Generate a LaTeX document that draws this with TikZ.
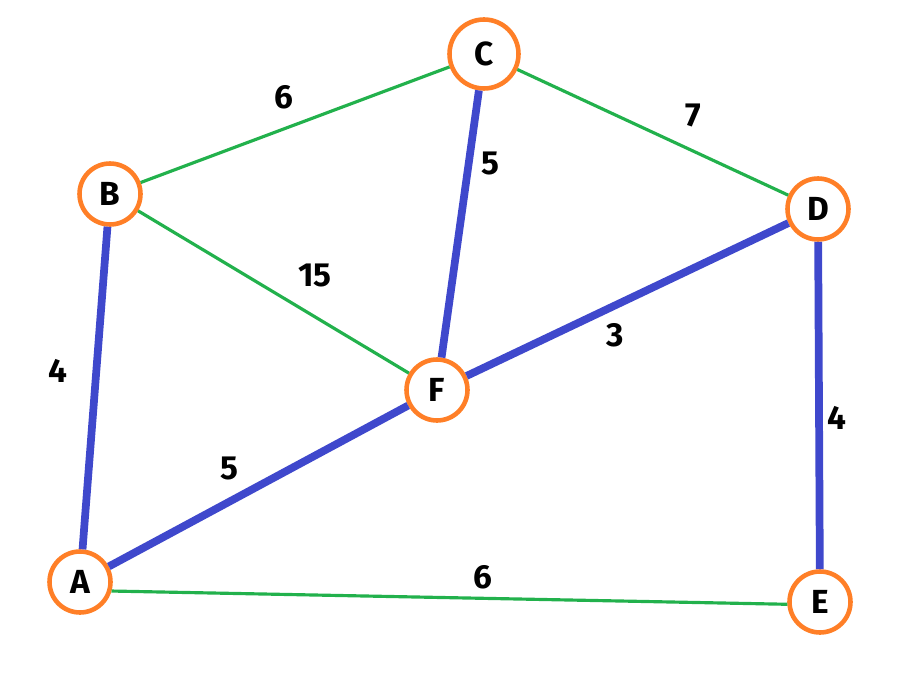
\documentclass[tikz,border=0pt]{standalone}
\usepackage{fontspec}
\setmainfont{Fira Sans}
\usepackage{tikz}
\usetikzlibrary{positioning}
\definecolor{vtxOrange}{HTML}{FF7F27}
\definecolor{edgeGreen}{HTML}{22B14C}
\definecolor{treeBlue}{HTML}{3F48CC}

\begin{document}
\begin{tikzpicture}[font=\fontsize{19}{22}\selectfont\bfseries,
  vtx/.style={circle,draw=vtxOrange,line width=2.6pt,fill=white,minimum size=1.22cm,inner sep=0pt},
  plain/.style={edgeGreen,line width=1.8pt},
  tree/.style={treeBlue,line width=4.4pt},
  wt/.style={inner sep=1pt}]
\useasboundingbox (0,0) rectangle (18,13.64);
% --- vertices ---
\foreach \p/\n in {{(2.20,9.76)}/B,{(16.36,9.46)}/D,{(8.74,5.84)}/F,{(1.60,2.00)}/A,{(16.40,1.60)}/E}
  {\node[vtx] (\n) at \p {\n};}
\node[vtx,minimum size=1.38cm] (C) at (9.68,12.56) {C};
% --- edges not in the tree ---
\draw[plain] (B) -- (C);
\draw[plain] (C) -- (D);
\draw[plain] (B) -- (F);
\draw[plain] (A.-16) -- (E.184);
% --- tree edges ---
\draw[tree] (C) -- (F);
\draw[tree] (F) -- (D);
\draw[tree] (B) -- (A);
\draw[tree] (A) -- (F);
\draw[tree] (D) -- (E);
% --- weights ---
\node[wt] (wBC) at (5.68,11.70) {6};
\node[wt] (wCD) at (13.86,11.34) {7};
\node[wt] (wCF) at (9.80,10.38) {5};
\node[wt] (wBF) at (6.30,8.14) {15};
\node[wt] (wFD) at (12.30,6.94) {3};
\node[wt] (wBA) at (1.16,6.22) {4};
\node[wt] (wAF) at (4.58,4.28) {5};
\node[wt] (wDE) at (16.74,5.28) {4};
\node[wt] (wAE) at (9.66,2.10) {6};
\end{tikzpicture}
\end{document}
